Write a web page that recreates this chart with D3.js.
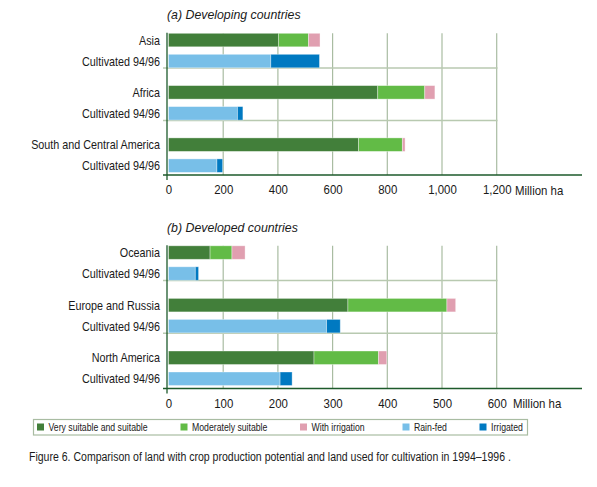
<!DOCTYPE html>
<html><head><meta charset="utf-8">
<script src="https://cdn.jsdelivr.net/npm/d3@7"></script>
<style>
body{margin:0;background:#fff;}
svg text{font-family:"Liberation Sans",Arial,sans-serif;fill:#1a1a1a;}
</style></head>
<body><svg id="c" width="597" height="487"></svg>
<script>
// ---- data ----
const seriesPotential = ["Very suitable and suitable","Moderately suitable","With irrigation"];
const seriesCultivated = ["Rain-fed","Irrigated"];
const colors = ["#427f3a","#62bb46","#e09fb0","#78bfe8","#0079c1"];

const regionsA = ["Asia","Africa","South and Central America"];
const veryA = [402, 765, 695];
const moderateA = [110, 172, 160];
const irrigA = [42, 37, 10];
const rainfedA = [374, 252, 177];
const irrigatedA = [178, 20, 21];
const ticksA = [0,200,400,600,800,1000,1200];

const regionsB = ["Oceania","Europe and Russia","North America"];
const veryB = [76, 328, 266];
const moderateB = [40, 181, 118];
const irrigB = [24, 16, 15];
const rainfedB = [49, 289, 204];
const irrigatedB = [6, 25, 22];
const ticksB = [0,100,200,300,400,500,600];

const cultLabel = "Cultivated 94/96";
const unitLabel = "Million ha";
const caption = "Figure 6. Comparison of land with crop production potential and land used for cultivation in 1994\u20131996 .";

const svg = d3.select("#c");
const gridCol = "#a9bca2", axisCol = "#1d5a2b";

// condense text horizontally by a factor via transform (keeps real text)
function condense(sel, f){
  sel.each(function(){
    const t = d3.select(this);
    const x = +t.attr("x") || 0, y = +t.attr("y") || 0;
    const prev = t.attr("transform") || "";
    t.attr("x", 0).attr("y", 0).attr("transform", `${prev} translate(${x},${y}) scale(${f},1)`);
  });
}
const LABF = 0.83, TICKF = 0.88, LEGF = 0.83, CAPF = 0.78;

function panel(opt){
  const g = svg.append("g");
  const x = d3.scaleLinear().domain([0, opt.max]).range([168.5, 496.7]);
  const y = d3.scaleBand().domain(opt.regions).range([opt.top, opt.top + 3*opt.step]);
  const inner = d3.scaleBand().domain(["p","c"]).range([0, 34.5]).paddingInner(0.357);
  const axisY = opt.axisY;

  // title
  g.append("text").attr("x", 167).attr("y", opt.top - 14)
    .style("font-style","italic").style("font-size","13px").text(opt.title).call(condense, 0.95);

  // vertical gridlines
  g.selectAll(".vg").data(opt.ticks.slice(1)).join("line")
    .attr("x1", d=>x(d)).attr("x2", d=>x(d))
    .attr("y1", opt.top).attr("y2", axisY)
    .attr("stroke", gridCol).attr("stroke-width",1.2);

  // separators
  g.selectAll(".sep").data(opt.regions.slice(0,2)).join("line")
    .attr("x1", 163).attr("x2", 497.5)
    .attr("y1", d=>y(d)+inner("c")+inner.bandwidth()+0.3)
    .attr("y2", d=>y(d)+inner("c")+inner.bandwidth()+0.3)
    .attr("stroke", "#b8c9b0").attr("stroke-width",1.5);

  const stack = opt.regions.map((r,i)=>({r, p:[opt.very[i],opt.moderate[i],opt.irrig[i]], c:[opt.rainfed[i],opt.irrigated[i]]}));
  stack.forEach(s=>{
    let acc=0;
    s.p.forEach((v,j)=>{
      g.append("rect").attr("x", x(acc)).attr("y", y(s.r)+inner("p"))
        .attr("width", x(acc+v)-x(acc)).attr("height", inner.bandwidth())
        .attr("fill", colors[j]).attr("stroke","rgba(255,255,255,0.45)").attr("stroke-width",0.8);
      acc+=v;
    });
    acc=0;
    s.c.forEach((v,j)=>{
      g.append("rect").attr("x", x(acc)).attr("y", y(s.r)+inner("c"))
        .attr("width", x(acc+v)-x(acc)).attr("height", inner.bandwidth())
        .attr("fill", colors[3+j]).attr("stroke","rgba(255,255,255,0.45)").attr("stroke-width",0.8);
      acc+=v;
    });
  });

  // category labels
  g.selectAll(".lab").data(opt.regions).join("text")
    .attr("x", 160).attr("y", d=>y(d)+inner("p")+inner.bandwidth()/2+4.5)
    .attr("text-anchor","end").style("font-size","13px").text(d=>d).call(condense, LABF);
  g.selectAll(".lab2").data(opt.regions).join("text")
    .attr("x", 160).attr("y", d=>y(d)+inner("c")+inner.bandwidth()/2+4.5)
    .attr("text-anchor","end").style("font-size","13px").text(cultLabel).call(condense, LABF);

  // axes lines
  g.append("line").attr("x1",167).attr("x2",167).attr("y1",opt.top-0.5).attr("y2",axisY+5)
    .attr("stroke",axisCol).attr("stroke-width",1.3);
  g.append("line").attr("x1",163).attr("x2",582).attr("y1",axisY).attr("y2",axisY)
    .attr("stroke",axisCol).attr("stroke-width",1.3);

  // bottom axis tick labels via d3 axis
  const ax = d3.axisBottom(x).tickValues(opt.ticks).tickSize(0).tickPadding(10)
    .tickFormat(d3.format(","));
  const axg = g.append("g").attr("transform",`translate(0,${axisY})`).call(ax);
  axg.select(".domain").remove();
  axg.selectAll("text").style("font-size","13px")
    .style("font-family",'"Liberation Sans",Arial,sans-serif').attr("fill","#1a1a1a").call(condense, TICKF);
  g.append("text").attr("x", opt.unitX).attr("y", axisY+19.5).style("font-size","13px").text(unitLabel).call(condense, TICKF);
}

panel({title:"(a) Developing countries", regions:regionsA, very:veryA, moderate:moderateA, irrig:irrigA,
  rainfed:rainfedA, irrigated:irrigatedA, max:1200, ticks:ticksA, top:33.3, step:52.3, axisY:175, unitX:515});
panel({title:"(b) Developed countries", regions:regionsB, very:veryB, moderate:moderateB, irrig:irrigB,
  rainfed:rainfedB, irrigated:irrigatedB, max:600, ticks:ticksB, top:245.8, step:52.6, axisY:388.5, unitX:513});

// legend
const leg = svg.append("g");
leg.append("rect").attr("x",33.5).attr("y",419.5).attr("width",494).attr("height",15.5)
  .attr("fill","none").attr("stroke","#a9bca2").attr("stroke-width",1.2);
const legNames = seriesPotential.concat(seriesCultivated);
const legX = [37, 180.5, 300, 402.5, 479.5];
legNames.forEach((n,i)=>{
  leg.append("rect").attr("x",legX[i]).attr("y",423.5).attr("width",7).attr("height",7).attr("fill",colors[i]);
  leg.append("text").attr("x",legX[i]+11.5).attr("y",431).style("font-size","10.5px").text(n).call(condense, LEGF);
});

// caption
svg.append("text").attr("x",29).attr("y",460.5).style("font-size","13.5px").text(caption).call(condense, CAPF);
</script></body></html>
